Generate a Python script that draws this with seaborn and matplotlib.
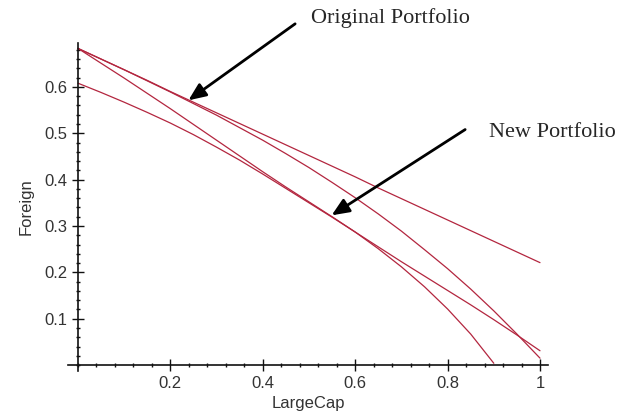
import matplotlib
matplotlib.use('Agg')
import matplotlib.pyplot as plt
from matplotlib.ticker import MultipleLocator
import seaborn as sns
import pandas as pd

# values (LargeCap on x, Foreign on y)
x_grid = [0.0, 0.05, 0.1, 0.15, 0.2, 0.25, 0.3, 0.35, 0.4, 0.45, 0.5,
          0.55, 0.6, 0.65, 0.7, 0.75, 0.8, 0.85, 0.9, 0.95, 1.0]

orig_straight = [0.683, 0.660, 0.637, 0.614, 0.590, 0.567, 0.544, 0.521, 0.498, 0.475, 0.452,
                 0.429, 0.406, 0.382, 0.359, 0.336, 0.313, 0.290, 0.267, 0.244, 0.221]
orig_curved = [0.683, 0.660, 0.637, 0.613, 0.589, 0.564, 0.539, 0.512, 0.485, 0.456, 0.426,
               0.394, 0.361, 0.326, 0.289, 0.249, 0.208, 0.164, 0.117, 0.067, 0.015]
new_upper = [0.608, 0.588, 0.567, 0.545, 0.522, 0.497, 0.470, 0.442, 0.412, 0.381, 0.350,
             0.319, 0.287, 0.255, 0.223, 0.192, 0.161, 0.130, 0.098, 0.065, 0.031]
# this one hits zero at 0.9
new_lower = [0.683, 0.651, 0.619, 0.586, 0.553, 0.519, 0.485, 0.451, 0.417, 0.384, 0.352,
             0.320, 0.287, 0.251, 0.212, 0.169, 0.121, 0.067, 0.004]

x_ticks = [0.2, 0.4, 0.6, 0.8, 1.0]
x_tick_labels = ['0.2', '0.4', '0.6', '0.8', '1']
y_ticks = [0.1, 0.2, 0.3, 0.4, 0.5, 0.6]
y_tick_labels = ['0.1', '0.2', '0.3', '0.4', '0.5', '0.6']

curves = {'orig_straight': orig_straight, 'orig_curved': orig_curved,
          'new_upper': new_upper, 'new_lower': new_lower}
frames = []
for name, vals in curves.items():
    frames.append(pd.DataFrame({'LargeCap': x_grid[:len(vals)], 'Foreign': vals, 'curve': name}))
df = pd.concat(frames).reset_index(drop=True)

sns.set_style('white')
plt.rcParams['font.family'] = ['Liberation Sans', 'DejaVu Sans']

line_col = '#b3263f'
fig = plt.figure(figsize=(6.32, 4.18), dpi=100)
ax = fig.add_axes([0.108, 0.1132, 0.7596, 0.7832])

sns.lineplot(data=df, x='LargeCap', y='Foreign', hue='curve', estimator=None, sort=True,
             palette={k: line_col for k in curves}, linewidth=0.9, legend=False, ax=ax)

ax.set_xlim(-0.021, 1.018)
ax.set_ylim(-0.012, 0.694)

# Maple style axes crossing at the origin
for side in ['top', 'right']:
    ax.spines[side].set_visible(False)
ax.spines['left'].set_position(('data', 0))
ax.spines['bottom'].set_position(('data', 0))
for side in ['left', 'bottom']:
    ax.spines[side].set_color('#111111')
    ax.spines[side].set_linewidth(1.2)

ax.set_xticks(x_ticks)
ax.set_xticklabels(x_tick_labels)
ax.set_yticks(y_ticks)
ax.set_yticklabels(y_tick_labels)
ax.xaxis.set_minor_locator(MultipleLocator(0.04))
ax.yaxis.set_minor_locator(MultipleLocator(0.02))
ax.tick_params(which='major', direction='inout', length=8, width=1, colors='#111111',
               labelsize=12, labelcolor='#333333')
ax.tick_params(which='minor', direction='inout', length=3, width=1, colors='#111111')
ax.tick_params(axis='x', which='both', bottom=True)
ax.tick_params(axis='y', which='both', left=True)

ax.set_xlabel('LargeCap', fontsize=12, color='#333333', labelpad=4)
ax.set_ylabel('Foreign', fontsize=12, color='#333333', labelpad=8)

arrow = dict(arrowstyle='-|>,head_length=0.7,head_width=0.3', color='black', lw=2,
             mutation_scale=15, shrinkA=0, shrinkB=0)
ax.annotate('', xy=(0.239, 0.571), xytext=(0.470, 0.736), arrowprops=arrow, annotation_clip=False)
ax.text(0.504, 0.738, 'Original Portfolio', family=['Liberation Serif', 'DejaVu Serif'],
        fontsize=16, va='baseline', clip_on=False)
ax.annotate('', xy=(0.549, 0.323), xytext=(0.838, 0.508), arrowprops=arrow, annotation_clip=False)
ax.text(0.890, 0.491, 'New Portfolio', family=['Liberation Serif', 'DejaVu Serif'],
        fontsize=16, va='baseline', clip_on=False)

fig.savefig('out.png', dpi=100)
